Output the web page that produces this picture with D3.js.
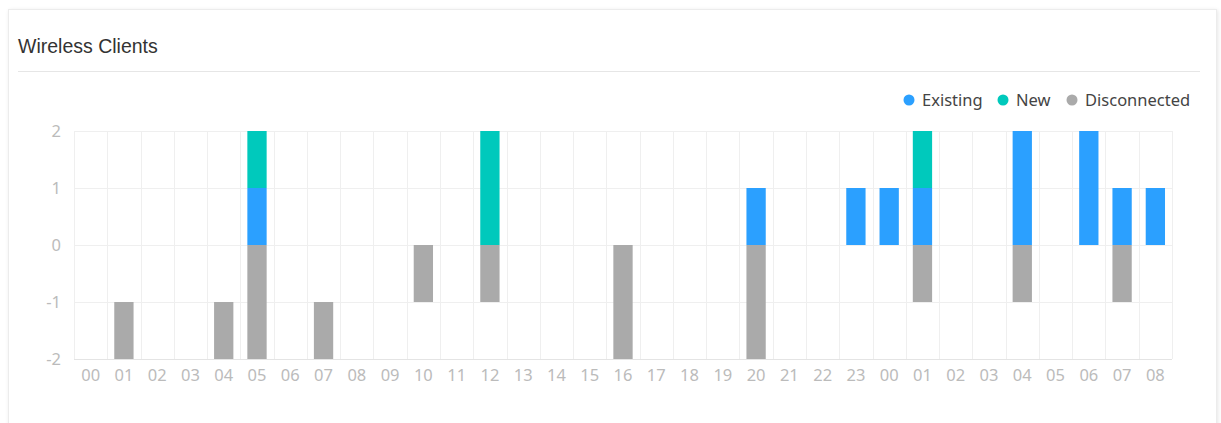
<!DOCTYPE html>
<html>
<head>
<meta charset="utf-8">
<script src="https://cdn.jsdelivr.net/npm/d3@7"></script>
<style>
  html, body { margin: 0; padding: 0; background: #fff; }
  body { width: 1221px; height: 423px; overflow: hidden; font-family: "Noto Sans", "Open Sans", sans-serif; }
  .card {
    position: absolute; left: 8px; top: 9px; width: 1207px; height: 430px;
    background: #fff; border: 1px solid #ececec;
    box-shadow: 1px 1px 4px rgba(0,0,0,0.10);
  }
  svg { position: absolute; left: 0; top: 0; }
</style>
</head>
<body>
<div class="card"></div>
<div id="chart"></div>
<script>
  const categories = [
    "00","01","02","03","04","05","06","07","08","09","10","11",
    "12","13","14","15","16","17","18","19","20","21","22","23",
    "00","01","02","03","04","05","06","07","08"
  ];
  const existing = [
    0,0,0,0,0,1,0,0,0,0,0,0,
    0,0,0,0,0,0,0,0,1,0,0,1,
    1,1,0,0,2,0,2,1,1
  ];
  const newClients = [
    0,0,0,0,0,1,0,0,0,0,0,0,
    2,0,0,0,0,0,0,0,0,0,0,0,
    0,1,0,0,0,0,0,0,0
  ];
  const disconnected = [
    0,-1,0,0,-1,-2,0,-1,0,0,-1,0,
    -1,0,0,0,-2,0,0,0,-2,0,0,0,
    0,-1,0,0,-1,0,0,-1,0
  ];
  // where a disconnected bar starts (some float below zero in the source)
  const disconnectedBase = [
    0,-1,0,0,-1,0,0,-1,0,0,0,0,
    0,0,0,0,0,0,0,0,0,0,0,0,
    0,0,0,0,0,0,0,0,0
  ];
  const yTicks = [-2, -1, 0, 1, 2];
  const seriesNames = ["Existing", "New", "Disconnected"];
  const colors = ["#2ba0ff", "#00c9bc", "#aaaaaa"];

  const W = 1221, H = 423;
  const margin = {top: 131, right: 49, bottom: 64, left: 74};
  const width = W - margin.left - margin.right;
  const height = H - margin.top - margin.bottom;

  const svg = d3.select("#chart").append("svg")
    .attr("width", W)
    .attr("height", H);

  // header
  svg.append("text")
    .attr("x", 18)
    .attr("y", 52.5)
    .attr("font-family", "Liberation Sans, Arial, sans-serif")
    .attr("font-size", 19.5)
    .attr("fill", "#333")
    .text("Wireless Clients");

  svg.append("line")
    .attr("x1", 18).attr("x2", 1200)
    .attr("y1", 71.5).attr("y2", 71.5)
    .attr("stroke", "#e6e6e6");

  const g = svg.append("g")
    .attr("transform", "translate(" + margin.left + "," + margin.top + ")");

  const x = d3.scaleBand()
    .domain(d3.range(categories.length))
    .range([0, width])
    .paddingInner(0.42)
    .paddingOuter(0.21);

  const xGrid = d3.scaleLinear()
    .domain([0, categories.length])
    .range([0, width]);

  const y = d3.scaleLinear()
    .domain([-2, 2])
    .range([height, 0]);

  // grid
  g.append("g")
    .selectAll("line")
    .data(d3.range(categories.length + 1))
    .join("line")
    .attr("x1", d => Math.round(xGrid(d)) + 0.5)
    .attr("x2", d => Math.round(xGrid(d)) + 0.5)
    .attr("y1", 0)
    .attr("y2", height)
    .attr("stroke", "#efefef");

  g.append("g")
    .selectAll("line")
    .data(yTicks)
    .join("line")
    .attr("x1", 0)
    .attr("x2", width)
    .attr("y1", d => Math.round(y(d)) + 0.5)
    .attr("y2", d => Math.round(y(d)) + 0.5)
    .attr("stroke", d => d === -2 ? "#e4e4e4" : "#efefef");

  // y axis
  const yAxis = g.append("g")
    .call(d3.axisLeft(y).tickValues(yTicks).tickSize(0).tickPadding(13).tickFormat(d => String(d)));
  yAxis.select(".domain").remove();
  yAxis.selectAll("text")
    .attr("font-family", "Noto Sans, sans-serif")
    .attr("font-size", 16.5)
    .attr("fill", "#bbbbbb");

  // x axis
  const xAxis = g.append("g")
    .attr("transform", "translate(0," + height + ")")
    .call(d3.axisBottom(x).tickSize(0).tickPadding(10).tickFormat(i => categories[i]));
  xAxis.select(".domain").remove();
  xAxis.selectAll("text")
    .attr("font-family", "Noto Sans, sans-serif")
    .attr("font-size", 16.5)
    .attr("fill", "#bbbbbb");

  // positives stack up from zero
  const rows = categories.map((c, i) => ({
    i: i,
    Existing: existing[i],
    New: newClients[i]
  }));
  const layers = d3.stack().keys(["Existing", "New"])(rows);

  const bars = g.append("g");
  bars.selectAll("g")
    .data(layers)
    .join("g")
    .attr("fill", (d, k) => colors[k])
    .selectAll("rect")
    .data(d => d.filter(s => s[1] !== s[0]))
    .join("rect")
    .attr("x", d => x(d.data.i))
    .attr("width", x.bandwidth())
    .attr("y", d => y(d[1]))
    .attr("height", d => y(d[0]) - y(d[1]));

  // disconnected hangs below its base
  bars.append("g")
    .attr("fill", colors[2])
    .selectAll("rect")
    .data(categories.map((c, i) => ({i: i, v0: disconnectedBase[i], v1: disconnectedBase[i] + disconnected[i]}))
      .filter(d => d.v1 !== d.v0))
    .join("rect")
    .attr("x", d => x(d.i))
    .attr("width", x.bandwidth())
    .attr("y", d => y(d.v0))
    .attr("height", d => y(d.v1) - y(d.v0));

  // legend
  const legendItems = [
    {name: "Existing", cx: 909},
    {name: "New", cx: 1003},
    {name: "Disconnected", cx: 1072}
  ];
  const legend = svg.append("g")
    .selectAll("g")
    .data(legendItems)
    .join("g")
    .attr("transform", d => "translate(" + d.cx + ",100)");
  legend.append("circle")
    .attr("r", 5.5)
    .attr("fill", (d, k) => colors[k]);
  legend.append("text")
    .attr("x", 13)
    .attr("dy", "0.35em")
    .attr("font-size", 16.5)
    .attr("fill", "#444")
    .text(d => d.name);
</script>
</body>
</html>
